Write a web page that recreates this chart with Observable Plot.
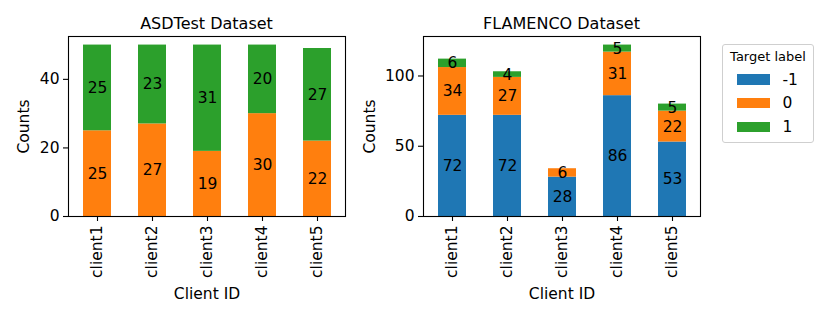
<!DOCTYPE html>
<html><head><meta charset="utf-8">
<script src="https://cdn.jsdelivr.net/npm/d3@7"></script>
<script src="https://cdn.jsdelivr.net/npm/@observablehq/plot@0.6"></script>
<style>
html,body{margin:0;padding:0;background:#fff;}
#root{position:relative;width:830px;height:318px;font-family:"DejaVu Sans",sans-serif;color:#000;overflow:hidden;background:#fff}
.panel{position:absolute;top:0}
.title{position:absolute;top:16px;font-size:16px;line-height:16px;white-space:nowrap;transform:translateX(-50%)}
.legend{position:absolute;left:722px;top:44px;width:90px;height:97px;border:1px solid #cfcfcf;border-radius:3px;background:rgba(255,255,255,0.8)}
.legend .ltitle{position:absolute;top:5px;left:0;width:90px;text-align:center;font-size:13px;line-height:13px;white-space:nowrap}
.legend .row{position:absolute;left:0;height:24px;display:flex;align-items:center}
.legend .sw{width:33px;height:10.5px;margin-left:14px}
.legend .lab{margin-left:12.5px;font-size:15.5px;line-height:16px}
</style></head><body><div id="root"></div>
<script>
// ---- data ----
const clients = ["client1", "client2", "client3", "client4", "client5"];
const targetLabels = ["-1", "0", "1"];
const labelColors = ["#1f77b4", "#ff7f0e", "#2ca02c"];

// ASDTest dataset (no -1 class)
const asdLabels = ["0", "1"];
const asdLabel0 = [25, 27, 19, 30, 22];
const asdLabel1 = [25, 23, 31, 20, 27];
const asdTicks = [0, 20, 40];

// FLAMENCO dataset
const flamLabels = ["-1", "0", "1"];
const flamLabelNeg1 = [72, 72, 28, 86, 53];
const flamLabel0 = [34, 27, 6, 31, 22];
const flamLabel1 = [6, 4, 0, 5, 5];
const flamTicks = [0, 50, 100];

const titles = ["ASDTest Dataset", "FLAMENCO Dataset"];
const xLabel = "Client ID";
const yLabel = "Counts";
const legendTitle = "Target label";

function toRows(labels, series) {
  const rows = [];
  labels.forEach((lab, i) => clients.forEach((c, j) => rows.push({client: c, label: lab, count: series[i][j]})));
  return rows;
}
const asdData = toRows(asdLabels, [asdLabel0, asdLabel1]);
const flamData = toRows(flamLabels, [flamLabelNeg1, flamLabel0, flamLabel1]);

const root = document.getElementById("root");

function panel({data, ticks, left, width, marginLeft, marginRight, yLabelOffset, title}) {
  const maxTotal = d3.max(d3.rollup(data, v => d3.sum(v, d => d.count), d => d.client).values());
  const svg = Plot.plot({
    width, height: 318,
    marginLeft, marginRight, marginTop: 36, marginBottom: 102,
    style: {fontFamily: "DejaVu Sans, sans-serif", fontSize: "16px", color: "black", background: "transparent", overflow: "visible"},
    x: {domain: clients, paddingInner: 0.5, paddingOuter: 0.25},
    y: {domain: [0, maxTotal * 1.05]},
    color: {domain: targetLabels, range: labelColors},
    marks: [
      Plot.barY(data, {x: "client", y: "count", fill: "label"}),
      Plot.text(data, Plot.stackY({x: "client", y: "count", z: "label", text: d => String(d.count), filter: d => d.count > 0, fill: "black", fontSize: 15.5})),
      Plot.axisY(ticks, {tickSize: 5, tickPadding: 4, fontSize: 15.5, strokeWidth: 1.1, label: yLabel, labelAnchor: "center", labelOffset: yLabelOffset, labelArrow: false}),
      Plot.axisX({tickSize: 5, tickPadding: 4, tickRotate: -90, fontSize: 15.5, strokeWidth: 1.1, label: xLabel, labelAnchor: "center", labelOffset: 82, labelArrow: false}),
      Plot.frame({stroke: "black", strokeWidth: 1.1})
    ]
  });
  const wrap = document.createElement("div");
  wrap.className = "panel";
  wrap.style.left = left + "px";
  wrap.appendChild(svg);
  root.appendChild(wrap);
  const t = document.createElement("div");
  t.className = "title";
  t.textContent = title;
  t.style.left = (left + marginLeft + (width - marginLeft - marginRight) / 2) + "px";
  root.appendChild(t);
}

panel({data: asdData, ticks: asdTicks, left: 0, width: 360, marginLeft: 68, marginRight: 15, yLabelOffset: 51, title: titles[0]});
panel({data: flamData, ticks: flamTicks, left: 360, width: 360, marginLeft: 63, marginRight: 20, yLabelOffset: 60, title: titles[1]});

// legend
const lg = document.createElement("div");
lg.className = "legend";
const lt = document.createElement("div");
lt.className = "ltitle";
lt.textContent = legendTitle;
lg.appendChild(lt);
const rowTops = [22.7, 46, 70];
targetLabels.forEach((lab, i) => {
  const r = document.createElement("div");
  r.className = "row";
  r.style.top = rowTops[i] + "px";
  const sw = document.createElement("div");
  sw.className = "sw";
  sw.style.background = labelColors[i];
  const tx = document.createElement("span");
  tx.className = "lab";
  tx.textContent = lab;
  r.appendChild(sw);
  r.appendChild(tx);
  lg.appendChild(r);
});
root.appendChild(lg);
</script>
</body></html>
